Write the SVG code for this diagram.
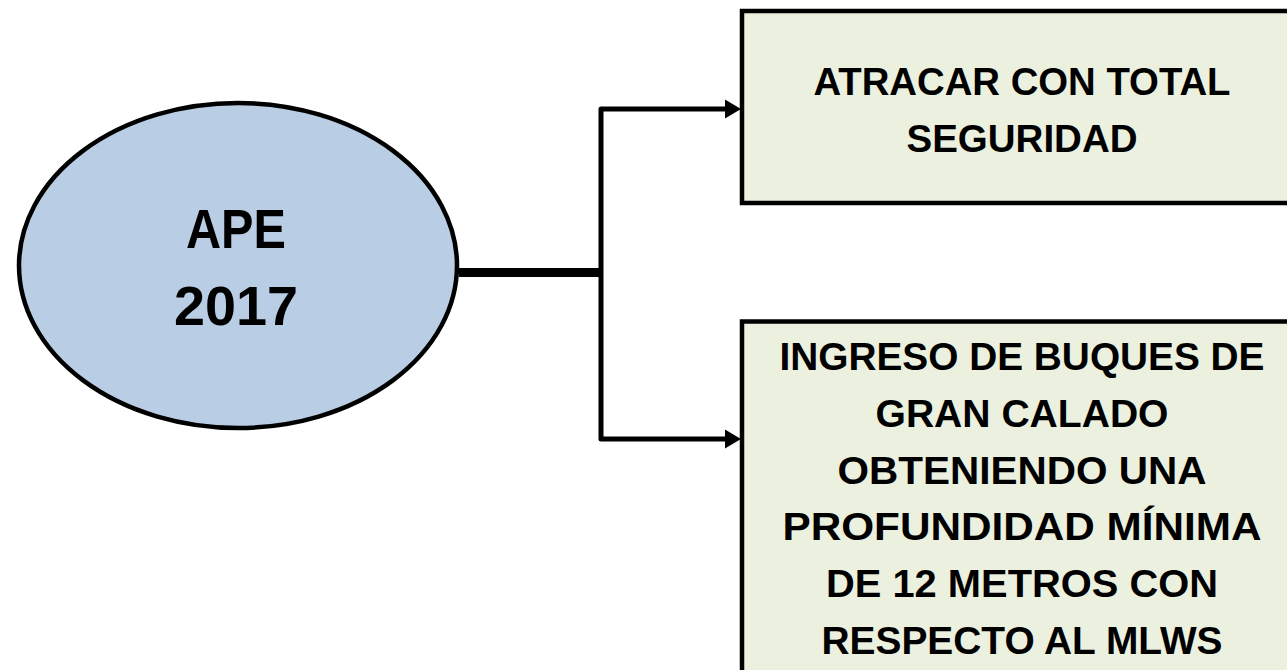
<svg xmlns="http://www.w3.org/2000/svg" width="1287" height="670" viewBox="0 0 1287 670">
  <style>
    .ell { fill: #B9CDE5; stroke: #000; stroke-width: 4.5; }
    .box { fill: #EBF1DE; stroke: #000; stroke-width: 4.5; }
    .t { font-family: "Liberation Sans", Arial, sans-serif; font-weight: bold; fill: #000; text-anchor: middle; }
    .bt { font-size: 39px; }
    .et { font-size: 55px; }
    .conn { fill: none; stroke: #000; stroke-width: 5; stroke-linejoin: round; }
  </style>
  <defs>
    <marker id="arrow" markerUnits="userSpaceOnUse" markerWidth="18" markerHeight="20" refX="1" refY="10" orient="auto" overflow="visible">
      <path d="M0,0.5 L16,10 L0,19.5 Z" fill="#000"/>
    </marker>
  </defs>
  <rect width="1287" height="670" fill="#fff"/>

  <g id="connectors">
    <line x1="459" y1="272.5" x2="601" y2="272.5" stroke="#000" stroke-width="9"/>
    <path class="conn" d="M601,272 L601,109 L726,109" marker-end="url(#arrow)"/>
    <path class="conn" d="M601,272 L601,439 L726,439" marker-end="url(#arrow)"/>
  </g>

  <g id="node-ape">
    <ellipse class="ell" cx="238" cy="265.5" rx="219" ry="162.5"/>
    <text class="t et" x="236" y="248" textLength="100" lengthAdjust="spacingAndGlyphs">APE</text>
    <text class="t et" x="236" y="325" textLength="124" lengthAdjust="spacingAndGlyphs">2017</text>
  </g>

  <g id="node-atracar">
    <rect class="box" x="742" y="11" width="560" height="192"/>
    <text class="t bt" x="1022" y="95" textLength="417" lengthAdjust="spacingAndGlyphs">ATRACAR CON TOTAL</text>
    <text class="t bt" x="1022" y="151.5" textLength="231" lengthAdjust="spacingAndGlyphs">SEGURIDAD</text>
  </g>

  <g id="node-ingreso">
    <rect class="box" x="742" y="321.5" width="560" height="370"/>
    <text class="t bt" x="1022" y="370" textLength="485" lengthAdjust="spacingAndGlyphs">INGRESO DE BUQUES DE</text>
    <text class="t bt" x="1022" y="427" textLength="293" lengthAdjust="spacingAndGlyphs">GRAN CALADO</text>
    <text class="t bt" x="1022" y="483.5" textLength="369" lengthAdjust="spacingAndGlyphs">OBTENIENDO UNA</text>
    <text class="t bt" x="1022" y="540" textLength="479" lengthAdjust="spacingAndGlyphs">PROFUNDIDAD MÍNIMA</text>
    <text class="t bt" x="1022" y="597" textLength="392" lengthAdjust="spacingAndGlyphs">DE 12 METROS CON</text>
    <text class="t bt" x="1022" y="653.5" textLength="401" lengthAdjust="spacingAndGlyphs">RESPECTO AL MLWS</text>
  </g>
</svg>
